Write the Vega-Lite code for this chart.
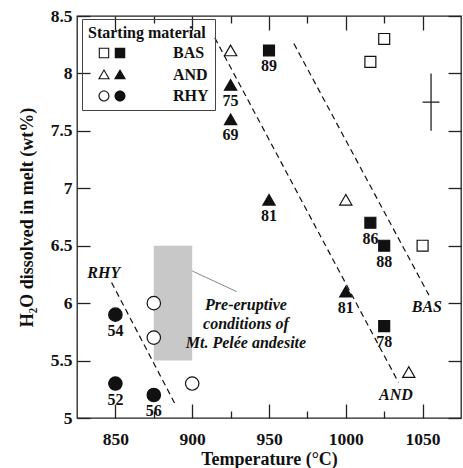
{
  "$schema": "https://vega.github.io/schema/vega-lite/v6.json",
  "width": 384,
  "height": 402,
  "autosize": {"type": "none"},
  "padding": {"left": 77, "top": 16, "right": 2, "bottom": 50},
  "background": "white",
  "config": {
    "view": {"stroke": "#222", "strokeWidth": 1.3},
    "font": "Liberation Serif",
    "axis": {
      "grid": false, "domain": false, "tickColor": "#222", "tickWidth": 1.3,
      "labelFont": "Liberation Serif", "labelFontSize": 17.5, "labelFontWeight": "bold", "labelColor": "#111",
      "titleFont": "Liberation Serif", "titleFontSize": 18, "titleFontWeight": "bold", "titleColor": "#111",
      "labelFlush": false, "labelOverlap": false
    }
  },
  "datasets": {
    "points": [
      {"temp": 1025, "h2o": 8.3, "material": "BAS", "kind": "open", "label": null},
      {"temp": 1016, "h2o": 8.1, "material": "BAS", "kind": "open", "label": null},
      {"temp": 1050, "h2o": 6.5, "material": "BAS", "kind": "open", "label": null},
      {"temp": 950, "h2o": 8.2, "material": "BAS", "kind": "filled", "label": "89"},
      {"temp": 1016, "h2o": 6.7, "material": "BAS", "kind": "filled", "label": "86"},
      {"temp": 1025, "h2o": 6.5, "material": "BAS", "kind": "filled", "label": "88"},
      {"temp": 1025, "h2o": 5.8, "material": "BAS", "kind": "filled", "label": "78"},
      {"temp": 925, "h2o": 8.2, "material": "AND", "kind": "open", "label": null},
      {"temp": 1000, "h2o": 6.9, "material": "AND", "kind": "open", "label": null},
      {"temp": 1041, "h2o": 5.4, "material": "AND", "kind": "open", "label": null},
      {"temp": 925, "h2o": 7.9, "material": "AND", "kind": "filled", "label": "75"},
      {"temp": 925, "h2o": 7.6, "material": "AND", "kind": "filled", "label": "69"},
      {"temp": 950, "h2o": 6.9, "material": "AND", "kind": "filled", "label": "81"},
      {"temp": 1000, "h2o": 6.1, "material": "AND", "kind": "filled", "label": "81"},
      {"temp": 875, "h2o": 6.0, "material": "RHY", "kind": "open", "label": null},
      {"temp": 875, "h2o": 5.7, "material": "RHY", "kind": "open", "label": null},
      {"temp": 900, "h2o": 5.3, "material": "RHY", "kind": "open", "label": null},
      {"temp": 850, "h2o": 5.9, "material": "RHY", "kind": "filled", "label": "54"},
      {"temp": 850, "h2o": 5.3, "material": "RHY", "kind": "filled", "label": "52"},
      {"temp": 875, "h2o": 5.2, "material": "RHY", "kind": "filled", "label": "56"}
    ],
    "trends": [
      {"name": "RHY", "t1": 847.5, "w1": 6.18, "t2": 889.7, "w2": 5.1},
      {"name": "AND", "t1": 914.7, "w1": 8.31, "t2": 1034.3, "w2": 5.31},
      {"name": "BAS", "t1": 966.2, "w1": 8.26, "t2": 1054.1, "w2": 6.07}
    ],
    "trendLabels": [
      {"text": "RHY", "t": 842.4, "w": 6.26},
      {"text": "AND", "t": 1032.6, "w": 5.2},
      {"text": "BAS", "t": 1052.8, "w": 5.97}
    ],
    "note": [
      {"text": "Pre-eruptive", "t": 935, "w": 5.98},
      {"text": "conditions of", "t": 935, "w": 5.82},
      {"text": "Mt. Pelée andesite", "t": 935, "w": 5.65}
    ],
    "errbar": [
      {"t1": 1055.5, "t2": 1055.5, "w1": 7.5, "w2": 8.0},
      {"t1": 1050, "t2": 1061, "w1": 7.75, "w2": 7.75}
    ],
    "legendItems": [
      {"material": "BAS"}, {"material": "AND"}, {"material": "RHY"}
    ]
  },
  "layer": [
    {
      "data": {"values": [{"t1": 875, "t2": 900, "w1": 5.5, "w2": 6.5}]},
      "mark": {"type": "rect", "fill": "#c8c8c8"},
      "encoding": {
        "x": {"field": "t1", "type": "quantitative",
          "scale": {"domain": [825, 1075], "nice": false, "zero": false},
          "axis": {"orient": "bottom", "title": "Temperature (°C)",
            "values": [850, 875, 900, 925, 950, 975, 1000, 1025, 1050],
            "format": "d",
            "labelExpr": "datum.value % 50 === 0 ? datum.label : ''",
            "tickSize": {"condition": {"test": "datum.value % 50 === 0", "value": -14}, "value": -7},
            "labelPadding": 26, "titleY": 46, "titleBaseline": "alphabetic"}},
        "x2": {"field": "t2"},
        "y": {"field": "w1", "type": "quantitative",
          "scale": {"domain": [5, 8.5], "nice": false, "zero": false},
          "axis": {"orient": "left", "title": "H₂O dissolved in melt (wt%)",
            "values": [5, 5.5, 6, 6.5, 7, 7.5, 8, 8.5], "format": "~g",
            "tickSize": -13, "labelPadding": 18,
            "titleX": -45, "titleY": 201, "titleBaseline": "alphabetic", "titleAngle": 270}},
        "y2": {"field": "w2"}
      }
    },
    {
      "data": {"values": [{"t1": 900, "w1": 6.28, "t2": 929, "w2": 6.1}]},
      "mark": {"type": "rule", "stroke": "#888", "strokeWidth": 1},
      "encoding": {
        "x": {"field": "t1", "type": "quantitative", "axis": null},
        "x2": {"field": "t2"},
        "y": {"field": "w1", "type": "quantitative", "axis": null},
        "y2": {"field": "w2"}
      }
    },
    {
      "data": {"name": "trends"},
      "mark": {"type": "rule", "stroke": "#111", "strokeWidth": 1.2, "strokeDash": [6, 4]},
      "encoding": {
        "x": {"field": "t1", "type": "quantitative",
          "axis": {"orient": "top", "title": null, "labels": false,
            "values": [850, 875, 900, 925, 950, 975, 1000, 1025, 1050],
            "tickSize": {"condition": {"test": "datum.value % 50 === 0", "value": -14}, "value": -7}}},
        "x2": {"field": "t2"},
        "y": {"field": "w1", "type": "quantitative",
          "axis": {"orient": "right", "title": null, "labels": false,
            "values": [5, 5.5, 6, 6.5, 7, 7.5, 8, 8.5], "tickSize": -13}},
        "y2": {"field": "w2"}
      }
    },
    {
      "data": {"name": "errbar"},
      "mark": {"type": "rule", "stroke": "#222", "strokeWidth": 1.3},
      "encoding": {
        "x": {"field": "t1", "type": "quantitative", "axis": null},
        "x2": {"field": "t2"},
        "y": {"field": "w1", "type": "quantitative", "axis": null},
        "y2": {"field": "w2"}
      }
    },
    {
      "data": {"name": "points"},
      "mark": {"type": "point", "stroke": "#111", "strokeWidth": 1.2, "opacity": 1},
      "encoding": {
        "x": {"field": "temp", "type": "quantitative", "axis": null},
        "y": {"field": "h2o", "type": "quantitative", "axis": null},
        "shape": {"field": "material", "type": "nominal",
          "scale": {"domain": ["BAS", "AND", "RHY"], "range": ["square", "triangle-up", "circle"]}, "legend": null},
        "size": {"field": "material", "type": "ordinal",
          "scale": {"domain": ["BAS", "AND", "RHY"], "range": [120, 180, 110]}, "legend": null},
        "fill": {"field": "kind", "type": "nominal",
          "scale": {"domain": ["open", "filled"], "range": ["white", "#111"]}, "legend": null}
      }
    },
    {
      "data": {"name": "points"},
      "transform": [{"filter": "datum.label"}],
      "mark": {"type": "text", "font": "Liberation Serif", "fontSize": 16, "fontWeight": "bold", "dy": 16, "baseline": "middle", "align": "center", "color": "#111"},
      "encoding": {
        "x": {"field": "temp", "type": "quantitative", "axis": null},
        "y": {"field": "h2o", "type": "quantitative", "axis": null},
        "text": {"field": "label"}
      }
    },
    {
      "data": {"name": "trendLabels"},
      "mark": {"type": "text", "font": "Liberation Serif", "fontSize": 16, "fontWeight": "bold", "fontStyle": "italic", "baseline": "middle", "align": "center", "color": "#111"},
      "encoding": {
        "x": {"field": "t", "type": "quantitative", "axis": null},
        "y": {"field": "w", "type": "quantitative", "axis": null},
        "text": {"field": "text"}
      }
    },
    {
      "data": {"name": "note"},
      "mark": {"type": "text", "font": "Liberation Serif", "fontSize": 16, "fontWeight": "bold", "fontStyle": "italic", "baseline": "middle", "align": "center", "color": "#111"},
      "encoding": {
        "x": {"field": "t", "type": "quantitative", "axis": null},
        "y": {"field": "w", "type": "quantitative", "axis": null},
        "text": {"field": "text"}
      }
    },
    {
      "data": {"name": "legendItems"},
      "mark": {"type": "point", "filled": true, "color": "#111", "size": 0, "opacity": 1},
      "encoding": {
        "shape": {"field": "material", "type": "nominal",
          "scale": {"domain": ["BAS", "AND", "RHY"],
            "range": [
              "M-1.472,-0.583L-0.306,-0.583L-0.306,0.583L-1.472,0.583Z M-1.35,-0.461L-1.35,0.461L-0.428,0.461L-0.428,-0.461Z M0.306,-0.583L1.472,-0.583L1.472,0.583L0.306,0.583Z",
              "M-0.889,-0.622L-0.222,0.533L-1.556,0.533Z M-0.889,-0.378L-1.344,0.411L-0.434,0.411Z M0.889,-0.622L1.556,0.533L0.222,0.533Z",
              "M-1.5,0A0.611,0.611,0,1,1,-0.278,0A0.611,0.611,0,1,1,-1.5,0Z M-1.378,0A0.489,0.489,0,1,0,-0.4,0A0.489,0.489,0,1,0,-1.378,0Z M0.278,0A0.611,0.611,0,1,1,1.5,0A0.611,0.611,0,1,1,0.278,0Z"
            ]},
          "legend": {
            "title": "Starting material", "orient": "none", "legendX": 5, "legendY": 3,
            "symbolSize": 324, "symbolOffset": 15, "labelOffset": 52,
            "symbolStrokeWidth": 0, "symbolFillColor": "#111",
            "strokeColor": "#444", "padding": 6, "rowPadding": 4.5, "titlePadding": 3,
            "titleFont": "Liberation Serif", "titleFontSize": 16, "titleFontWeight": "bold", "titleColor": "#111",
            "labelFont": "Liberation Serif", "labelFontSize": 16, "labelFontWeight": "bold", "labelColor": "#111"
          }
        }
      }
    }
  ],
  "resolve": {
    "scale": {"shape": "independent", "size": "independent"},
    "axis": {"x": "independent", "y": "independent"},
    "legend": {"shape": "independent"}
  }
}
